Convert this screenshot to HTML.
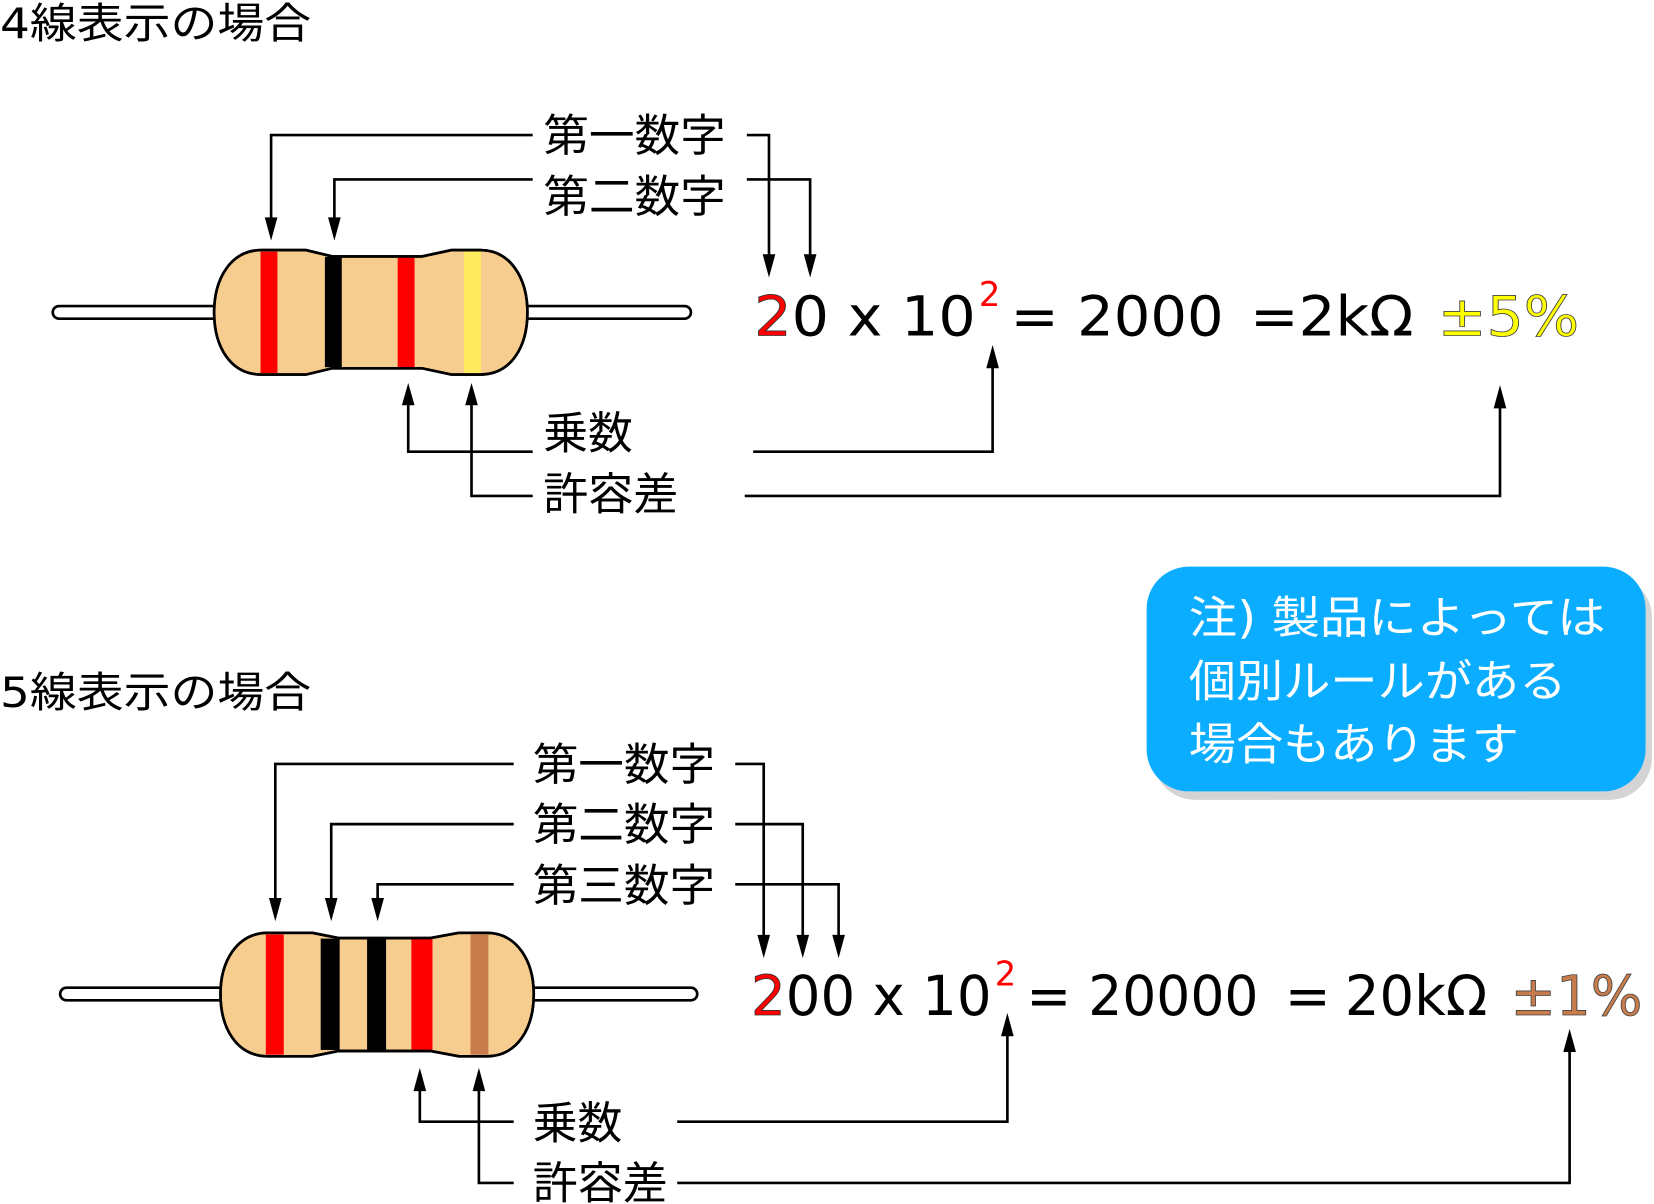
<!DOCTYPE html>
<html><head><meta charset="utf-8"><style>
html,body{margin:0;padding:0;background:#fff;}
svg{display:block;}
text{font-family:"DejaVu Sans","Noto Sans CJK JP",sans-serif;}
.lb{font-size:42px;}
.tt{font-size:40px;}
.eq{font-size:52px;}
.ln{fill:none;stroke:#000;stroke-width:2.5;}
</style></head><body>
<svg width="1654" height="1204" viewBox="0 0 1568 1141" preserveAspectRatio="none" xmlns="http://www.w3.org/2000/svg">

<!-- ===== Section 1 ===== -->
<text class="tt" x="0" y="36" textLength="295" lengthAdjust="spacingAndGlyphs">4線表示の場合</text>

<rect x="50" y="290" width="605" height="12" rx="6" fill="#fff" stroke="#000" stroke-width="2.5"/>
<path d="M262,237 L290,237 L315,243 L400,243 L428,237 L455,237 C485,237 500,265 500,296 C500,328 485,355 455,355 L428,355 L400,349 L315,349 L290,355 L262,355 L248,355 C218,355 203,328 203,296 C203,265 218,237 248,237 Z" fill="#f6cd8f" stroke="#000" stroke-width="2.5"/>
<rect x="247" y="238.5" width="16" height="115" fill="#ff0000"/>
<rect x="308" y="243.5" width="16" height="104.5" fill="#000"/>
<rect x="377" y="243.5" width="16" height="104.5" fill="#ff0000"/>
<rect x="440" y="238.5" width="16" height="115" fill="#ffea5e"/>
<path d="M262,237 L290,237 L315,243 L400,243 L428,237 L455,237 C485,237 500,265 500,296 C500,328 485,355 455,355 L428,355 L400,349 L315,349 L290,355 L262,355 L248,355 C218,355 203,328 203,296 C203,265 218,237 248,237 Z" fill="none" stroke="#000" stroke-width="2.5"/>

<text class="lb" x="515" y="143" textLength="173" lengthAdjust="spacingAndGlyphs">第一数字</text>
<text class="lb" x="515" y="201" textLength="173" lengthAdjust="spacingAndGlyphs">第二数字</text>
<text class="lb" x="515" y="425" textLength="85" lengthAdjust="spacingAndGlyphs">乗数</text>
<text class="lb" x="515" y="483" textLength="128" lengthAdjust="spacingAndGlyphs">許容差</text>

<path class="ln" d="M505,128 H257 V210"/>
<polygon points="251,206 263,206 257,228"/>
<path class="ln" d="M708,128 H729 V245"/>
<polygon points="723,241 735,241 729,263"/>
<path class="ln" d="M505,170 H317 V210"/>
<polygon points="311,206 323,206 317,228"/>
<path class="ln" d="M708,170 H768 V245"/>
<polygon points="762,241 774,241 768,263"/>

<path class="ln" d="M505,428 H387 V380"/>
<polygon points="381,384 393,384 387,363"/>
<path class="ln" d="M714,428 H941 V345"/>
<polygon points="935,349 947,349 941,327"/>
<path class="ln" d="M505,470 H447 V380"/>
<polygon points="441,384 453,384 447,363"/>
<path class="ln" d="M706,470 H1422 V383"/>
<polygon points="1416,387 1428,387 1422,365"/>

<text class="eq" x="715" y="318" textLength="210" lengthAdjust="spacingAndGlyphs"><tspan style="fill:#ff0000" stroke="#333" stroke-width="0.8">2</tspan>0 x 10</text>
<text x="928" y="290" style="font-size:32px;fill:#ff0000">2</text>
<text class="eq" x="958" y="318" textLength="202" lengthAdjust="spacingAndGlyphs">= 2000</text>
<text class="eq" x="1185" y="318" textLength="155" lengthAdjust="spacingAndGlyphs">=2kΩ</text>
<text class="eq" x="1363" y="318" textLength="134" lengthAdjust="spacingAndGlyphs" style="fill:#ffff00" stroke="#444" stroke-width="0.8">±5%</text>

<!-- ===== Section 2 ===== -->
<text class="tt" x="0" y="670" textLength="295" lengthAdjust="spacingAndGlyphs">5線表示の場合</text>

<rect x="57" y="936" width="604" height="12" rx="6" fill="#fff" stroke="#000" stroke-width="2.5"/>
<path d="M268,884 L296,884 L321,889 L408,889 L435,884 L461,884 C491,884 506,912 506,942 C506,974 491,1001 461,1001 L435,1001 L408,996 L321,996 L296,1001 L268,1001 L254,1001 C224,1001 209,974 209,942 C209,912 224,884 254,884 Z" fill="#f6cd8f" stroke="#000" stroke-width="2.5"/>
<rect x="252" y="885.5" width="17" height="114" fill="#ff0000"/>
<rect x="304" y="889.5" width="18" height="105.5" fill="#000"/>
<rect x="348" y="889.5" width="18" height="105.5" fill="#000"/>
<rect x="390" y="889.5" width="20" height="105.5" fill="#ff0000"/>
<rect x="446" y="885.5" width="17" height="114" fill="#c87c4c"/>
<path d="M268,884 L296,884 L321,889 L408,889 L435,884 L461,884 C491,884 506,912 506,942 C506,974 491,1001 461,1001 L435,1001 L408,996 L321,996 L296,1001 L268,1001 L254,1001 C224,1001 209,974 209,942 C209,912 224,884 254,884 Z" fill="none" stroke="#000" stroke-width="2.5"/>

<text class="lb" x="505" y="739" textLength="173" lengthAdjust="spacingAndGlyphs">第一数字</text>
<text class="lb" x="505" y="796" textLength="173" lengthAdjust="spacingAndGlyphs">第二数字</text>
<text class="lb" x="505" y="854" textLength="173" lengthAdjust="spacingAndGlyphs">第三数字</text>
<text class="lb" x="505" y="1079" textLength="85" lengthAdjust="spacingAndGlyphs">乗数</text>
<text class="lb" x="505" y="1136" textLength="128" lengthAdjust="spacingAndGlyphs">許容差</text>

<path class="ln" d="M487,724 H261 V855"/>
<polygon points="255,851 267,851 261,873"/>
<path class="ln" d="M697,724 H724 V890"/>
<polygon points="718,886 730,886 724,908"/>
<path class="ln" d="M487,781 H314 V855"/>
<polygon points="308,851 320,851 314,873"/>
<path class="ln" d="M697,781 H761 V890"/>
<polygon points="755,886 767,886 761,908"/>
<path class="ln" d="M487,838 H358 V855"/>
<polygon points="352,851 364,851 358,873"/>
<path class="ln" d="M697,838 H795 V890"/>
<polygon points="789,886 801,886 795,908"/>

<path class="ln" d="M487,1063 H398 V1030"/>
<polygon points="392,1034 404,1034 398,1012"/>
<path class="ln" d="M642,1063 H955 V978"/>
<polygon points="949,982 961,982 955,960"/>
<path class="ln" d="M487,1121 H454 V1030"/>
<polygon points="448,1034 460,1034 454,1012"/>
<path class="ln" d="M642,1121 H1488 V993"/>
<polygon points="1482,997 1494,997 1488,975"/>

<text class="eq" x="712" y="962" textLength="228" lengthAdjust="spacingAndGlyphs"><tspan style="fill:#ff0000" stroke="#333" stroke-width="0.8">2</tspan>00 x 10</text>
<text x="943" y="934" style="font-size:32px;fill:#ff0000">2</text>
<text class="eq" x="973" y="962" textLength="220" lengthAdjust="spacingAndGlyphs">= 20000</text>
<text class="eq" x="1218" y="962">=</text>
<text class="eq" x="1275" y="962" textLength="135" lengthAdjust="spacingAndGlyphs">20kΩ</text>
<text class="eq" x="1432" y="962" textLength="125" lengthAdjust="spacingAndGlyphs" style="fill:#c87c4c" stroke="#444" stroke-width="0.8">±1%</text>

<!-- note box -->
<rect x="1093" y="545" width="473" height="213" rx="40" fill="#d4d4d4"/>
<rect x="1087" y="537" width="473" height="213" rx="40" fill="#0aadff"/>
<text class="lb" x="1127" y="600" textLength="395" lengthAdjust="spacingAndGlyphs" style="fill:#fff">注) 製品によっては</text>
<text class="lb" x="1127" y="660" textLength="358" lengthAdjust="spacingAndGlyphs" style="fill:#fff">個別ルールがある</text>
<text class="lb" x="1127" y="720" textLength="313" lengthAdjust="spacingAndGlyphs" style="fill:#fff">場合もあります</text>
</svg>
</body></html>
